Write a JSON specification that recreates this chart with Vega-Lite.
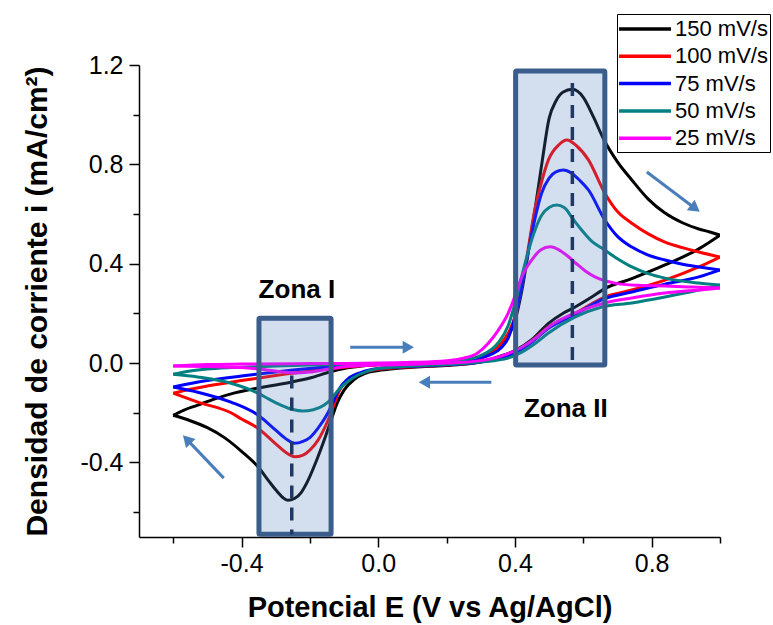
{
"$schema":"https://vega.github.io/schema/vega-lite/v6.json",
"autosize":{"type":"none"},
"padding":{"left":139,"top":65,"right":53,"bottom":88},
"width":581,"height":472,
"background":"white",
"config":{"view":{"stroke":null},"font":"Liberation Sans"},
"datasets":{
"cv":[
{"s":"150 mV/s","b":"f","E":-0.6,"j":-0.21},{"s":"150 mV/s","b":"f","E":-0.57,"j":-0.19},{"s":"150 mV/s","b":"f","E":-0.53,"j":-0.17},{"s":"150 mV/s","b":"f","E":-0.48,"j":-0.145},{"s":"150 mV/s","b":"f","E":-0.42,"j":-0.12},{"s":"150 mV/s","b":"f","E":-0.35,"j":-0.1},{"s":"150 mV/s","b":"f","E":-0.3,"j":-0.088},{"s":"150 mV/s","b":"f","E":-0.25,"j":-0.075},{"s":"150 mV/s","b":"f","E":-0.2,"j":-0.06},{"s":"150 mV/s","b":"f","E":-0.14,"j":-0.035},{"s":"150 mV/s","b":"f","E":-0.1,"j":-0.022},{"s":"150 mV/s","b":"f","E":-0.05,"j":-0.012},{"s":"150 mV/s","b":"f","E":0,"j":-0.006},{"s":"150 mV/s","b":"f","E":0.05,"j":-0.003},{"s":"150 mV/s","b":"f","E":0.1,"j":0},{"s":"150 mV/s","b":"f","E":0.15,"j":0},{"s":"150 mV/s","b":"f","E":0.2,"j":0.003},{"s":"150 mV/s","b":"f","E":0.25,"j":0.008},{"s":"150 mV/s","b":"f","E":0.3,"j":0.02},{"s":"150 mV/s","b":"f","E":0.33,"j":0.04},{"s":"150 mV/s","b":"f","E":0.36,"j":0.075},{"s":"150 mV/s","b":"f","E":0.38,"j":0.11},{"s":"150 mV/s","b":"f","E":0.4,"j":0.17},{"s":"150 mV/s","b":"f","E":0.42,"j":0.29},{"s":"150 mV/s","b":"f","E":0.44,"j":0.455},{"s":"150 mV/s","b":"f","E":0.46,"j":0.63},{"s":"150 mV/s","b":"f","E":0.48,"j":0.815},{"s":"150 mV/s","b":"f","E":0.5,"j":0.985},{"s":"150 mV/s","b":"f","E":0.52,"j":1.055},{"s":"150 mV/s","b":"f","E":0.54,"j":1.09},{"s":"150 mV/s","b":"f","E":0.568,"j":1.102},{"s":"150 mV/s","b":"f","E":0.6,"j":1.07},{"s":"150 mV/s","b":"f","E":0.63,"j":0.99},{"s":"150 mV/s","b":"f","E":0.66,"j":0.9},{"s":"150 mV/s","b":"f","E":0.7,"j":0.81},{"s":"150 mV/s","b":"f","E":0.742,"j":0.737},{"s":"150 mV/s","b":"f","E":0.79,"j":0.66},{"s":"150 mV/s","b":"f","E":0.839,"j":0.604},{"s":"150 mV/s","b":"f","E":0.89,"j":0.565},{"s":"150 mV/s","b":"f","E":0.938,"j":0.54},{"s":"150 mV/s","b":"f","E":0.97,"j":0.528},{"s":"150 mV/s","b":"f","E":1.0,"j":0.515},
{"s":"150 mV/s","b":"r","E":-0.6,"j":-0.21},{"s":"150 mV/s","b":"r","E":-0.55,"j":-0.232},{"s":"150 mV/s","b":"r","E":-0.5,"j":-0.26},{"s":"150 mV/s","b":"r","E":-0.45,"j":-0.3},{"s":"150 mV/s","b":"r","E":-0.4,"j":-0.355},{"s":"150 mV/s","b":"r","E":-0.35,"j":-0.42},{"s":"150 mV/s","b":"r","E":-0.32,"j":-0.475},{"s":"150 mV/s","b":"r","E":-0.3,"j":-0.51},{"s":"150 mV/s","b":"r","E":-0.28,"j":-0.54},{"s":"150 mV/s","b":"r","E":-0.265,"j":-0.552},{"s":"150 mV/s","b":"r","E":-0.245,"j":-0.545},{"s":"150 mV/s","b":"r","E":-0.225,"j":-0.52},{"s":"150 mV/s","b":"r","E":-0.205,"j":-0.471},{"s":"150 mV/s","b":"r","E":-0.18,"j":-0.39},{"s":"150 mV/s","b":"r","E":-0.158,"j":-0.31},{"s":"150 mV/s","b":"r","E":-0.138,"j":-0.23},{"s":"150 mV/s","b":"r","E":-0.12,"j":-0.16},{"s":"150 mV/s","b":"r","E":-0.1,"j":-0.109},{"s":"150 mV/s","b":"r","E":-0.07,"j":-0.065},{"s":"150 mV/s","b":"r","E":-0.04,"j":-0.042},{"s":"150 mV/s","b":"r","E":0,"j":-0.03},{"s":"150 mV/s","b":"r","E":0.05,"j":-0.022},{"s":"150 mV/s","b":"r","E":0.1,"j":-0.017},{"s":"150 mV/s","b":"r","E":0.15,"j":-0.013},{"s":"150 mV/s","b":"r","E":0.2,"j":-0.01},{"s":"150 mV/s","b":"r","E":0.25,"j":-0.005},{"s":"150 mV/s","b":"r","E":0.3,"j":0.005},{"s":"150 mV/s","b":"r","E":0.35,"j":0.025},{"s":"150 mV/s","b":"r","E":0.4,"j":0.05},{"s":"150 mV/s","b":"r","E":0.45,"j":0.095},{"s":"150 mV/s","b":"r","E":0.498,"j":0.16},{"s":"150 mV/s","b":"r","E":0.54,"j":0.2},{"s":"150 mV/s","b":"r","E":0.575,"j":0.225},{"s":"150 mV/s","b":"r","E":0.62,"j":0.262},{"s":"150 mV/s","b":"r","E":0.663,"j":0.3},{"s":"150 mV/s","b":"r","E":0.742,"j":0.34},{"s":"150 mV/s","b":"r","E":0.839,"j":0.395},{"s":"150 mV/s","b":"r","E":0.938,"j":0.46},{"s":"150 mV/s","b":"r","E":1.0,"j":0.515},
{"s":"100 mV/s","b":"f","E":-0.6,"j":-0.121},{"s":"100 mV/s","b":"f","E":-0.55,"j":-0.105},{"s":"100 mV/s","b":"f","E":-0.5,"j":-0.092},{"s":"100 mV/s","b":"f","E":-0.4,"j":-0.07},{"s":"100 mV/s","b":"f","E":-0.3,"j":-0.05},{"s":"100 mV/s","b":"f","E":-0.2,"j":-0.032},{"s":"100 mV/s","b":"f","E":-0.1,"j":-0.017},{"s":"100 mV/s","b":"f","E":0,"j":-0.007},{"s":"100 mV/s","b":"f","E":0.1,"j":-0.002},{"s":"100 mV/s","b":"f","E":0.2,"j":0.003},{"s":"100 mV/s","b":"f","E":0.25,"j":0.008},{"s":"100 mV/s","b":"f","E":0.3,"j":0.02},{"s":"100 mV/s","b":"f","E":0.33,"j":0.04},{"s":"100 mV/s","b":"f","E":0.36,"j":0.08},{"s":"100 mV/s","b":"f","E":0.38,"j":0.12},{"s":"100 mV/s","b":"f","E":0.4,"j":0.186},{"s":"100 mV/s","b":"f","E":0.43,"j":0.387},{"s":"100 mV/s","b":"f","E":0.458,"j":0.616},{"s":"100 mV/s","b":"f","E":0.48,"j":0.74},{"s":"100 mV/s","b":"f","E":0.498,"j":0.818},{"s":"100 mV/s","b":"f","E":0.528,"j":0.878},{"s":"100 mV/s","b":"f","E":0.552,"j":0.898},{"s":"100 mV/s","b":"f","E":0.58,"j":0.875},{"s":"100 mV/s","b":"f","E":0.615,"j":0.818},{"s":"100 mV/s","b":"f","E":0.663,"j":0.684},{"s":"100 mV/s","b":"f","E":0.7,"j":0.61},{"s":"100 mV/s","b":"f","E":0.742,"j":0.563},{"s":"100 mV/s","b":"f","E":0.79,"j":0.52},{"s":"100 mV/s","b":"f","E":0.839,"j":0.487},{"s":"100 mV/s","b":"f","E":0.89,"j":0.465},{"s":"100 mV/s","b":"f","E":0.938,"j":0.447},{"s":"100 mV/s","b":"f","E":1.0,"j":0.427},
{"s":"100 mV/s","b":"r","E":-0.6,"j":-0.121},{"s":"100 mV/s","b":"r","E":-0.528,"j":-0.157},{"s":"100 mV/s","b":"r","E":-0.431,"j":-0.2},{"s":"100 mV/s","b":"r","E":-0.4,"j":-0.225},{"s":"100 mV/s","b":"r","E":-0.352,"j":-0.262},{"s":"100 mV/s","b":"r","E":-0.3,"j":-0.325},{"s":"100 mV/s","b":"r","E":-0.27,"j":-0.36},{"s":"100 mV/s","b":"r","E":-0.245,"j":-0.377},{"s":"100 mV/s","b":"r","E":-0.22,"j":-0.37},{"s":"100 mV/s","b":"r","E":-0.2,"j":-0.35},{"s":"100 mV/s","b":"r","E":-0.176,"j":-0.31},{"s":"100 mV/s","b":"r","E":-0.147,"j":-0.23},{"s":"100 mV/s","b":"r","E":-0.13,"j":-0.17},{"s":"100 mV/s","b":"r","E":-0.117,"j":-0.12},{"s":"100 mV/s","b":"r","E":-0.09,"j":-0.07},{"s":"100 mV/s","b":"r","E":-0.05,"j":-0.04},{"s":"100 mV/s","b":"r","E":0,"j":-0.025},{"s":"100 mV/s","b":"r","E":0.1,"j":-0.015},{"s":"100 mV/s","b":"r","E":0.2,"j":-0.008},{"s":"100 mV/s","b":"r","E":0.3,"j":0.005},{"s":"100 mV/s","b":"r","E":0.35,"j":0.02},{"s":"100 mV/s","b":"r","E":0.4,"j":0.04},{"s":"100 mV/s","b":"r","E":0.45,"j":0.09},{"s":"100 mV/s","b":"r","E":0.498,"j":0.145},{"s":"100 mV/s","b":"r","E":0.575,"j":0.2},{"s":"100 mV/s","b":"r","E":0.663,"j":0.266},{"s":"100 mV/s","b":"r","E":0.742,"j":0.294},{"s":"100 mV/s","b":"r","E":0.839,"j":0.334},{"s":"100 mV/s","b":"r","E":0.938,"j":0.387},{"s":"100 mV/s","b":"r","E":1.0,"j":0.427},
{"s":"75 mV/s","b":"f","E":-0.6,"j":-0.096},{"s":"75 mV/s","b":"f","E":-0.5,"j":-0.07},{"s":"75 mV/s","b":"f","E":-0.4,"j":-0.052},{"s":"75 mV/s","b":"f","E":-0.3,"j":-0.036},{"s":"75 mV/s","b":"f","E":-0.2,"j":-0.022},{"s":"75 mV/s","b":"f","E":-0.1,"j":-0.012},{"s":"75 mV/s","b":"f","E":0,"j":-0.005},{"s":"75 mV/s","b":"f","E":0.1,"j":-0.001},{"s":"75 mV/s","b":"f","E":0.2,"j":0.004},{"s":"75 mV/s","b":"f","E":0.25,"j":0.009},{"s":"75 mV/s","b":"f","E":0.3,"j":0.022},{"s":"75 mV/s","b":"f","E":0.33,"j":0.035},{"s":"75 mV/s","b":"f","E":0.36,"j":0.062},{"s":"75 mV/s","b":"f","E":0.38,"j":0.1},{"s":"75 mV/s","b":"f","E":0.41,"j":0.24},{"s":"75 mV/s","b":"f","E":0.44,"j":0.455},{"s":"75 mV/s","b":"f","E":0.46,"j":0.59},{"s":"75 mV/s","b":"f","E":0.478,"j":0.684},{"s":"75 mV/s","b":"f","E":0.5,"j":0.745},{"s":"75 mV/s","b":"f","E":0.52,"j":0.77},{"s":"75 mV/s","b":"f","E":0.542,"j":0.777},{"s":"75 mV/s","b":"f","E":0.565,"j":0.765},{"s":"75 mV/s","b":"f","E":0.59,"j":0.735},{"s":"75 mV/s","b":"f","E":0.615,"j":0.697},{"s":"75 mV/s","b":"f","E":0.663,"j":0.576},{"s":"75 mV/s","b":"f","E":0.7,"j":0.51},{"s":"75 mV/s","b":"f","E":0.742,"j":0.467},{"s":"75 mV/s","b":"f","E":0.79,"j":0.435},{"s":"75 mV/s","b":"f","E":0.839,"j":0.415},{"s":"75 mV/s","b":"f","E":0.89,"j":0.398},{"s":"75 mV/s","b":"f","E":0.938,"j":0.387},{"s":"75 mV/s","b":"f","E":1.0,"j":0.375},
{"s":"75 mV/s","b":"r","E":-0.6,"j":-0.096},{"s":"75 mV/s","b":"r","E":-0.528,"j":-0.117},{"s":"75 mV/s","b":"r","E":-0.431,"j":-0.157},{"s":"75 mV/s","b":"r","E":-0.352,"j":-0.209},{"s":"75 mV/s","b":"r","E":-0.3,"j":-0.27},{"s":"75 mV/s","b":"r","E":-0.27,"j":-0.305},{"s":"75 mV/s","b":"r","E":-0.245,"j":-0.323},{"s":"75 mV/s","b":"r","E":-0.22,"j":-0.315},{"s":"75 mV/s","b":"r","E":-0.2,"j":-0.3},{"s":"75 mV/s","b":"r","E":-0.176,"j":-0.262},{"s":"75 mV/s","b":"r","E":-0.147,"j":-0.2},{"s":"75 mV/s","b":"r","E":-0.13,"j":-0.15},{"s":"75 mV/s","b":"r","E":-0.117,"j":-0.11},{"s":"75 mV/s","b":"r","E":-0.09,"j":-0.065},{"s":"75 mV/s","b":"r","E":-0.05,"j":-0.037},{"s":"75 mV/s","b":"r","E":0,"j":-0.022},{"s":"75 mV/s","b":"r","E":0.1,"j":-0.013},{"s":"75 mV/s","b":"r","E":0.2,"j":-0.007},{"s":"75 mV/s","b":"r","E":0.3,"j":0.004},{"s":"75 mV/s","b":"r","E":0.35,"j":0.02},{"s":"75 mV/s","b":"r","E":0.4,"j":0.04},{"s":"75 mV/s","b":"r","E":0.45,"j":0.085},{"s":"75 mV/s","b":"r","E":0.498,"j":0.14},{"s":"75 mV/s","b":"r","E":0.575,"j":0.195},{"s":"75 mV/s","b":"r","E":0.663,"j":0.26},{"s":"75 mV/s","b":"r","E":0.742,"j":0.286},{"s":"75 mV/s","b":"r","E":0.839,"j":0.318},{"s":"75 mV/s","b":"r","E":0.938,"j":0.347},{"s":"75 mV/s","b":"r","E":1.0,"j":0.375},
{"s":"50 mV/s","b":"f","E":-0.6,"j":-0.045},{"s":"50 mV/s","b":"f","E":-0.55,"j":-0.032},{"s":"50 mV/s","b":"f","E":-0.5,"j":-0.024},{"s":"50 mV/s","b":"f","E":-0.43,"j":-0.018},{"s":"50 mV/s","b":"f","E":-0.3,"j":-0.012},{"s":"50 mV/s","b":"f","E":-0.2,"j":-0.008},{"s":"50 mV/s","b":"f","E":-0.1,"j":-0.005},{"s":"50 mV/s","b":"f","E":0,"j":-0.003},{"s":"50 mV/s","b":"f","E":0.1,"j":0},{"s":"50 mV/s","b":"f","E":0.2,"j":0.006},{"s":"50 mV/s","b":"f","E":0.25,"j":0.013},{"s":"50 mV/s","b":"f","E":0.3,"j":0.03},{"s":"50 mV/s","b":"f","E":0.35,"j":0.08},{"s":"50 mV/s","b":"f","E":0.38,"j":0.15},{"s":"50 mV/s","b":"f","E":0.4,"j":0.24},{"s":"50 mV/s","b":"f","E":0.42,"j":0.35},{"s":"50 mV/s","b":"f","E":0.44,"j":0.455},{"s":"50 mV/s","b":"f","E":0.46,"j":0.54},{"s":"50 mV/s","b":"f","E":0.478,"j":0.595},{"s":"50 mV/s","b":"f","E":0.5,"j":0.626},{"s":"50 mV/s","b":"f","E":0.522,"j":0.636},{"s":"50 mV/s","b":"f","E":0.545,"j":0.625},{"s":"50 mV/s","b":"f","E":0.57,"j":0.58},{"s":"50 mV/s","b":"f","E":0.595,"j":0.536},{"s":"50 mV/s","b":"f","E":0.625,"j":0.49},{"s":"50 mV/s","b":"f","E":0.654,"j":0.463},{"s":"50 mV/s","b":"f","E":0.7,"j":0.42},{"s":"50 mV/s","b":"f","E":0.742,"j":0.387},{"s":"50 mV/s","b":"f","E":0.79,"j":0.36},{"s":"50 mV/s","b":"f","E":0.839,"j":0.342},{"s":"50 mV/s","b":"f","E":0.938,"j":0.322},{"s":"50 mV/s","b":"f","E":1.0,"j":0.314},
{"s":"50 mV/s","b":"r","E":-0.6,"j":-0.045},{"s":"50 mV/s","b":"r","E":-0.528,"j":-0.056},{"s":"50 mV/s","b":"r","E":-0.431,"j":-0.081},{"s":"50 mV/s","b":"r","E":-0.352,"j":-0.121},{"s":"50 mV/s","b":"r","E":-0.32,"j":-0.145},{"s":"50 mV/s","b":"r","E":-0.285,"j":-0.169},{"s":"50 mV/s","b":"r","E":-0.25,"j":-0.187},{"s":"50 mV/s","b":"r","E":-0.221,"j":-0.193},{"s":"50 mV/s","b":"r","E":-0.19,"j":-0.188},{"s":"50 mV/s","b":"r","E":-0.158,"j":-0.169},{"s":"50 mV/s","b":"r","E":-0.135,"j":-0.14},{"s":"50 mV/s","b":"r","E":-0.117,"j":-0.109},{"s":"50 mV/s","b":"r","E":-0.09,"j":-0.075},{"s":"50 mV/s","b":"r","E":-0.059,"j":-0.048},{"s":"50 mV/s","b":"r","E":-0.03,"j":-0.032},{"s":"50 mV/s","b":"r","E":0,"j":-0.022},{"s":"50 mV/s","b":"r","E":0.1,"j":-0.012},{"s":"50 mV/s","b":"r","E":0.2,"j":-0.006},{"s":"50 mV/s","b":"r","E":0.3,"j":0.004},{"s":"50 mV/s","b":"r","E":0.38,"j":0.02},{"s":"50 mV/s","b":"r","E":0.42,"j":0.044},{"s":"50 mV/s","b":"r","E":0.46,"j":0.08},{"s":"50 mV/s","b":"r","E":0.498,"j":0.121},{"s":"50 mV/s","b":"r","E":0.575,"j":0.185},{"s":"50 mV/s","b":"r","E":0.654,"j":0.226},{"s":"50 mV/s","b":"r","E":0.742,"j":0.242},{"s":"50 mV/s","b":"r","E":0.839,"j":0.266},{"s":"50 mV/s","b":"r","E":0.938,"j":0.294},{"s":"50 mV/s","b":"r","E":1.0,"j":0.314},
{"s":"25 mV/s","b":"f","E":-0.6,"j":-0.012},{"s":"25 mV/s","b":"f","E":-0.5,"j":-0.006},{"s":"25 mV/s","b":"f","E":-0.4,"j":-0.004},{"s":"25 mV/s","b":"f","E":-0.2,"j":-0.002},{"s":"25 mV/s","b":"f","E":0,"j":0},{"s":"25 mV/s","b":"f","E":0.1,"j":0.003},{"s":"25 mV/s","b":"f","E":0.2,"j":0.01},{"s":"25 mV/s","b":"f","E":0.25,"j":0.02},{"s":"25 mV/s","b":"f","E":0.29,"j":0.04},{"s":"25 mV/s","b":"f","E":0.322,"j":0.08},{"s":"25 mV/s","b":"f","E":0.35,"j":0.13},{"s":"25 mV/s","b":"f","E":0.38,"j":0.2},{"s":"25 mV/s","b":"f","E":0.4,"j":0.27},{"s":"25 mV/s","b":"f","E":0.42,"j":0.347},{"s":"25 mV/s","b":"f","E":0.449,"j":0.415},{"s":"25 mV/s","b":"f","E":0.475,"j":0.455},{"s":"25 mV/s","b":"f","E":0.503,"j":0.468},{"s":"25 mV/s","b":"f","E":0.53,"j":0.455},{"s":"25 mV/s","b":"f","E":0.555,"j":0.43},{"s":"25 mV/s","b":"f","E":0.58,"j":0.4},{"s":"25 mV/s","b":"f","E":0.605,"j":0.372},{"s":"25 mV/s","b":"f","E":0.634,"j":0.347},{"s":"25 mV/s","b":"f","E":0.692,"j":0.322},{"s":"25 mV/s","b":"f","E":0.76,"j":0.313},{"s":"25 mV/s","b":"f","E":0.839,"j":0.31},{"s":"25 mV/s","b":"f","E":0.92,"j":0.306},{"s":"25 mV/s","b":"f","E":1.0,"j":0.302},
{"s":"25 mV/s","b":"r","E":-0.6,"j":-0.012},{"s":"25 mV/s","b":"r","E":-0.5,"j":-0.014},{"s":"25 mV/s","b":"r","E":-0.4,"j":-0.018},{"s":"25 mV/s","b":"r","E":-0.33,"j":-0.027},{"s":"25 mV/s","b":"r","E":-0.28,"j":-0.036},{"s":"25 mV/s","b":"r","E":-0.245,"j":-0.04},{"s":"25 mV/s","b":"r","E":-0.2,"j":-0.036},{"s":"25 mV/s","b":"r","E":-0.15,"j":-0.025},{"s":"25 mV/s","b":"r","E":-0.1,"j":-0.015},{"s":"25 mV/s","b":"r","E":0,"j":-0.008},{"s":"25 mV/s","b":"r","E":0.1,"j":-0.005},{"s":"25 mV/s","b":"r","E":0.2,"j":0},{"s":"25 mV/s","b":"r","E":0.3,"j":0.01},{"s":"25 mV/s","b":"r","E":0.35,"j":0.024},{"s":"25 mV/s","b":"r","E":0.42,"j":0.064},{"s":"25 mV/s","b":"r","E":0.46,"j":0.1},{"s":"25 mV/s","b":"r","E":0.498,"j":0.145},{"s":"25 mV/s","b":"r","E":0.575,"j":0.201},{"s":"25 mV/s","b":"r","E":0.663,"j":0.242},{"s":"25 mV/s","b":"r","E":0.742,"j":0.262},{"s":"25 mV/s","b":"r","E":0.839,"j":0.282},{"s":"25 mV/s","b":"r","E":0.92,"j":0.292},{"s":"25 mV/s","b":"r","E":1.0,"j":0.302}
],
"boxes":[{"zone":"I","x1":-0.349,"x2":-0.138,"y1":-0.689,"y2":0.181},{"zone":"II","x1":0.402,"x2":0.663,"y1":-0.008,"y2":1.176}],
"dash":[{"zone":"I","x":-0.253,"y1":-0.05,"y2":-0.69},{"zone":"II","x":0.568,"y1":1.128,"y2":-0.01}],
"arrows":[{"a":1,"x1":-0.082,"y1":0.064,"x2":0.088,"y2":0.064},{"a":2,"x1":0.331,"y1":-0.077,"x2":0.135,"y2":-0.077},{"a":3,"x1":0.786,"y1":0.769,"x2":0.9275,"y2":0.6226},{"a":4,"x1":-0.452,"y1":-0.463,"x2":-0.56,"y2":-0.307}],
"labels":[{"t":"Zona I","x":-0.238,"y":0.262},{"t":"Zona II","x":0.549,"y":-0.217}]
},
"layer":[
{"data":{"name":"cv"},
 "mark":{"type":"line","interpolate":"monotone","strokeWidth":3,"clip":true},
 "encoding":{
  "x":{"field":"E","type":"quantitative","scale":{"domain":[-0.7,1.0],"nice":false,"zero":false},
   "axis":{"title":"Potencial E (V vs Ag/AgCl)","grid":false,"values":[-0.6,-0.4,-0.2,0,0.2,0.4,0.6,0.8,1.0],
    "labelExpr":"abs(round(datum.value*10)) % 4 == 0 ? (datum.value < 0 ? '-' : '') + format(abs(datum.value), '.1f') : ''",
    "tickSize":{"condition":{"test":"abs(round(datum.value*10)) % 4 == 0","value":10},"value":6},
    "domainColor":"black","domainWidth":1.5,"tickColor":"black","tickWidth":1.5,
    "labelFont":"Liberation Sans","labelFontSize":25,"labelColor":"black","labelPadding":4,"labelFlush":false,
    "titleFont":"Liberation Sans","titleFontSize":29,"titleFontWeight":"bold","titleColor":"black","titlePadding":17}},
  "y":{"field":"j","type":"quantitative","scale":{"domain":[-0.7,1.2],"nice":false,"zero":false},
   "axis":{"title":"Densidad de corriente i (mA/cm²)","grid":false,"values":[-0.6,-0.4,-0.2,0,0.2,0.4,0.6,0.8,1.0,1.2],
    "labelExpr":"abs(round(datum.value*10)) % 4 == 0 ? (datum.value < 0 ? '-' : '') + format(abs(datum.value), '.1f') : ''",
    "tickSize":{"condition":{"test":"abs(round(datum.value*10)) % 4 == 0","value":10},"value":6},
    "domainColor":"black","domainWidth":1.5,"tickColor":"black","tickWidth":1.5,
    "labelFont":"Liberation Sans","labelFontSize":25,"labelColor":"black","labelPadding":6,"labelFlush":false,
    "titleFont":"Liberation Sans","titleFontSize":30,"titleFontWeight":"bold","titleColor":"black","titlePadding":27}},
  "color":{"field":"s","type":"nominal",
   "scale":{"domain":["150 mV/s","100 mV/s","75 mV/s","50 mV/s","25 mV/s"],"range":["#000000","#ff0000","#0000ff","#008080","#ff00ff"]},
   "legend":{"title":null,"orient":"none","legendX":478,"legendY":-51,"symbolType":"M-2.36,0H2.36","symbolSize":484,"symbolStrokeWidth":3.5,"symbolOffset":13,"symbolFillColor":"transparent",
    "labelFont":"Liberation Sans","labelFontSize":22,"labelColor":"black","strokeColor":"black","fillColor":"white","padding":2,"rowPadding":3.3,"labelOffset":17}},
  "detail":{"field":"b","type":"nominal"}
 }},
{"data":{"name":"boxes"},
 "mark":{"type":"rect","fill":"#4f81bd","fillOpacity":0.25,"stroke":"#3a5d8c","strokeWidth":5,"cornerRadius":1},
 "encoding":{"x":{"field":"x1","type":"quantitative"},"x2":{"field":"x2"},"y":{"field":"y1","type":"quantitative"},"y2":{"field":"y2"}}},
{"data":{"name":"dash"},
 "mark":{"type":"rule","color":"#1f3864","strokeWidth":3.5,"strokeDash":[13,9]},
 "encoding":{"x":{"field":"x","type":"quantitative"},"y":{"field":"y1","type":"quantitative"},"y2":{"field":"y2"}}},
{"data":{"name":"arrows"},
 "mark":{"type":"rule","color":"#4a7ebb","strokeWidth":3},
 "encoding":{"x":{"field":"x1","type":"quantitative"},"y":{"field":"y1","type":"quantitative"},"x2":{"field":"x2"},"y2":{"field":"y2"}}},
{"data":{"name":"arrows"},"transform":[{"filter":"datum.a == 1"}],
 "mark":{"type":"point","shape":"triangle-right","filled":true,"color":"#4a7ebb","opacity":1,"size":170,"angle":0},
 "encoding":{"x":{"field":"x2","type":"quantitative"},"y":{"field":"y2","type":"quantitative"}}},
{"data":{"name":"arrows"},"transform":[{"filter":"datum.a == 2"}],
 "mark":{"type":"point","shape":"triangle-right","filled":true,"color":"#4a7ebb","opacity":1,"size":170,"angle":180},
 "encoding":{"x":{"field":"x2","type":"quantitative"},"y":{"field":"y2","type":"quantitative"}}},
{"data":{"name":"arrows"},"transform":[{"filter":"datum.a == 3"}],
 "mark":{"type":"point","shape":"triangle-right","filled":true,"color":"#4a7ebb","opacity":1,"size":170,"angle":37},
 "encoding":{"x":{"field":"x2","type":"quantitative"},"y":{"field":"y2","type":"quantitative"}}},
{"data":{"name":"arrows"},"transform":[{"filter":"datum.a == 4"}],
 "mark":{"type":"point","shape":"triangle-right","filled":true,"color":"#4a7ebb","opacity":1,"size":170,"angle":226},
 "encoding":{"x":{"field":"x2","type":"quantitative"},"y":{"field":"y2","type":"quantitative"}}},
{"data":{"name":"labels"},
 "mark":{"type":"text","font":"Liberation Sans","fontSize":26,"fontWeight":"bold","color":"black","align":"center","baseline":"alphabetic"},
 "encoding":{"x":{"field":"x","type":"quantitative"},"y":{"field":"y","type":"quantitative"},"text":{"field":"t"}}}
]
}
